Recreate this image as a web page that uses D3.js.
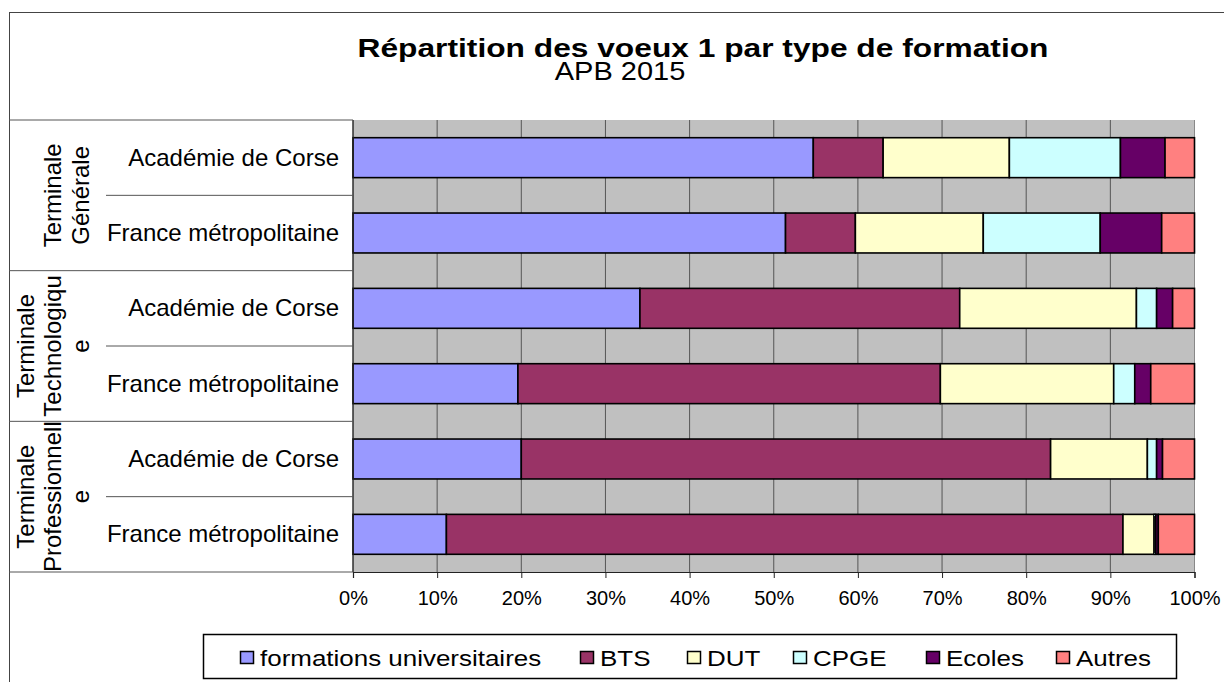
<!DOCTYPE html>
<html>
<head>
<meta charset="utf-8">
<script src="https://cdn.jsdelivr.net/npm/d3@7"></script>
<style>
  body { margin: 0; background: #fff; }
  text { font-family: "Liberation Sans", Arial, sans-serif; fill: #000; }
</style>
</head>
<body>
<svg id="chart" width="1224" height="682"></svg>
<script>
// groups of rows (label lines as wrapped in the original)
var groups = [["Terminale", "Générale"], ["Terminale", "Technologiqu", "e"], ["Terminale", "Professionnell", "e"]];
var places = ["Académie de Corse", "France métropolitaine"];
var series = ["formations universitaires", "BTS", "DUT", "CPGE", "Ecoles", "Autres"];
var colors = ["#9999ff", "#993366", "#ffffcc", "#ccffff", "#660066", "#ff8080"];

// % of voeux 1, one value per row (top to bottom)
var univ   = [54.7, 51.4, 34.1, 19.6, 20.0, 11.1];
var bts    = [8.3, 8.3, 38.0, 50.2, 62.9, 80.4];
var dut    = [15.0, 15.2, 21.0, 20.6, 11.5, 3.7];
var cpge   = [13.2, 13.9, 2.4, 2.5, 1.1, 0.2];
var ecoles = [5.3, 7.3, 1.9, 1.9, 0.7, 0.3];
var autres = [3.5, 3.9, 2.6, 5.2, 3.8, 4.3];

var xTicks = [0, 10, 20, 30, 40, 50, 60, 70, 80, 90, 100];

var cols = [univ, bts, dut, cpge, ecoles, autres];
var rows = [];
groups.forEach(function(g, gi) {
  places.forEach(function(p, pi) {
    var i = gi * places.length + pi;
    var r = { id: i, place: p, group: gi };
    series.forEach(function(s, si) { r[s] = cols[si][i]; });
    rows.push(r);
  });
});

var svg = d3.select("#chart");

var plot = { left: 353, right: 1194.5, top: 120, bottom: 572 };

var x = d3.scaleLinear().domain([0, 100]).range([plot.left, plot.right]);
var y = d3.scaleBand()
  .domain(rows.map(function(d) { return d.id; }))
  .range([plot.top, plot.bottom])
  .paddingInner(0.47)
  .paddingOuter(0.235);
var step = y.step();

// outer chart frame (only left and top edges fall inside the picture)
svg.append("rect")
  .attr("x", 9.5).attr("y", 12.5)
  .attr("width", 1300).attr("height", 800)
  .attr("fill", "none").attr("stroke", "#444").attr("stroke-width", 1);

// title
svg.append("text")
  .attr("transform", "translate(703,57) scale(1.22,1)")
  .attr("text-anchor", "middle")
  .style("font-size", "26px").style("font-weight", "bold")
  .text("Répartition des voeux 1 par type de formation");
svg.append("text")
  .attr("transform", "translate(620,80) scale(1.16,1)")
  .attr("text-anchor", "middle")
  .style("font-size", "25px")
  .text("APB 2015");

// plot background
svg.append("rect")
  .attr("x", plot.left).attr("y", plot.top)
  .attr("width", plot.right - plot.left).attr("height", plot.bottom - plot.top)
  .attr("fill", "#c0c0c0");

// vertical gridlines
svg.append("g").selectAll("line")
  .data(xTicks.slice(1))
  .enter().append("line")
  .attr("x1", function(d) { return x(d); }).attr("x2", function(d) { return x(d); })
  .attr("y1", plot.top).attr("y2", plot.bottom)
  .attr("stroke", function(d) { return d === 100 ? "#888" : "#555"; })
  .attr("stroke-width", 1);

// stacked bars
var stack = d3.stack().keys(series)(rows);
svg.append("g").selectAll("g")
  .data(stack)
  .enter().append("g")
  .attr("fill", function(d, i) { return colors[i]; })
  .selectAll("rect")
  .data(function(d) { return d; })
  .enter().append("rect")
  .attr("x", function(d) { return x(d[0]); })
  .attr("y", function(d) { return y(d.data.id); })
  .attr("width", function(d) { return x(d[1]) - x(d[0]); })
  .attr("height", y.bandwidth())
  .attr("stroke", "#000")
  .attr("stroke-width", 1.6);

// x axis
var xAxis = svg.append("g")
  .attr("transform", "translate(0," + plot.bottom + ")")
  .call(d3.axisBottom(x).tickValues(xTicks).tickSize(6).tickPadding(13)
    .tickFormat(function(d) { return d + "%"; }));
xAxis.select(".domain").attr("stroke", "#222").attr("stroke-width", 1.2);
xAxis.selectAll(".tick line").attr("stroke", "#222");
xAxis.selectAll("text")
  .style("font-size", "20px")
  .style("font-family", "'Liberation Sans', Arial, sans-serif")
  .attr("fill", "#000");

// left axis line
svg.append("line")
  .attr("x1", plot.left).attr("x2", plot.left)
  .attr("y1", plot.top).attr("y2", plot.bottom)
  .attr("stroke", "#222").attr("stroke-width", 1.4);

// category table lines
var groupEdges = d3.range(groups.length + 1).map(function(i) { return plot.top + i * places.length * step; });
svg.append("g").selectAll("line")
  .data(groupEdges)
  .enter().append("line")
  .attr("x1", 9).attr("x2", plot.left)
  .attr("y1", function(d) { return d; }).attr("y2", function(d) { return d; })
  .attr("stroke", "#555").attr("stroke-width", 1);
svg.append("g").selectAll("line")
  .data(groups)
  .enter().append("line")
  .attr("x1", 106).attr("x2", plot.left)
  .attr("y1", function(d, i) { return groupEdges[i] + step; })
  .attr("y2", function(d, i) { return groupEdges[i] + step; })
  .attr("stroke", "#555").attr("stroke-width", 1);

// row labels
svg.append("g").selectAll("text")
  .data(rows)
  .enter().append("text")
  .attr("x", 339)
  .attr("y", function(d) { return y(d.id) + y.bandwidth() / 2 + 8; })
  .attr("text-anchor", "end")
  .style("font-size", "24px")
  .text(function(d) { return d.place; });

// group labels (rotated)
var gl = svg.append("g").selectAll("g")
  .data(groups)
  .enter().append("g")
  .attr("transform", function(d, i) {
    return "translate(0," + ((groupEdges[i] + groupEdges[i + 1]) / 2) + ")";
  });
gl.selectAll("text")
  .data(function(d) { return d.map(function(t, j) { return { t: t, j: j, n: d.length }; }); })
  .enter().append("text")
  .attr("transform", function(d) {
    var bx = 89 - (d.n - 1 - d.j) * 27.7;
    return "translate(" + bx + ",0) rotate(-90)";
  })
  .attr("text-anchor", "middle")
  .style("font-size", "24px")
  .text(function(d) { return d.t; });

// legend
var legend = svg.append("g");
legend.append("rect")
  .attr("x", 203.5).attr("y", 634.5)
  .attr("width", 973).attr("height", 44)
  .attr("fill", "#fff").attr("stroke", "#000").attr("stroke-width", 1.5);
var legendX = [240, 580, 687, 793, 926, 1056];
var li = legend.selectAll("g.item")
  .data(series)
  .enter().append("g")
  .attr("class", "item")
  .attr("transform", function(d, i) { return "translate(" + legendX[i] + ",651)"; });
li.append("rect")
  .attr("x", 0.5).attr("y", 0.5)
  .attr("width", 13).attr("height", 12)
  .attr("fill", function(d, i) { return colors[i]; })
  .attr("stroke", "#000").attr("stroke-width", 1.5);
li.append("text")
  .attr("transform", "translate(20,15) scale(1.18,1)")
  .style("font-size", "22px")
  .text(function(d) { return d; });
</script>
</body>
</html>
